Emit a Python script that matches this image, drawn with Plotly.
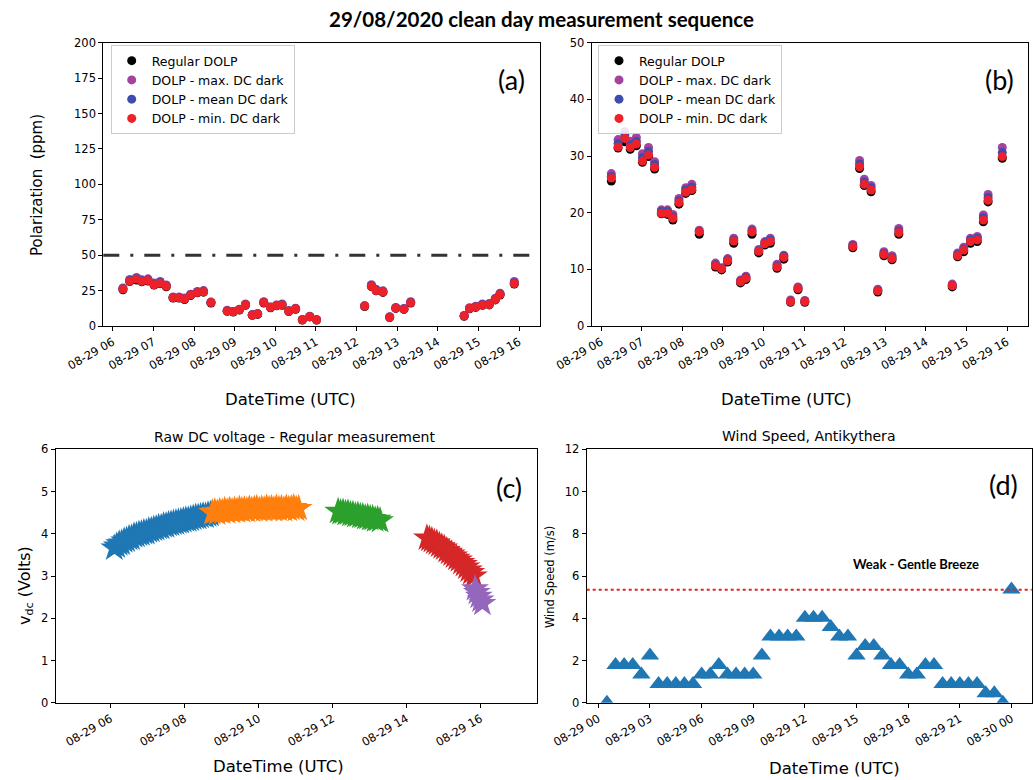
import plotly.graph_objects as go

W, H = 1035, 780
DAY = "2020-08-29 "

# ---------------- DOLP data (panels a, b) ----------------
dolp_hhmm = ["06:15", "06:25", "06:35", "06:43", "06:52", "07:01", "07:10", "07:19", "07:29", "07:38",
             "07:46", "07:55", "08:05", "08:14", "08:25", "08:49", "08:58", "09:07", "09:16", "09:26",
             "09:34", "09:43", "09:53", "10:02", "10:10", "10:20", "10:30", "10:40", "10:51", "11:01",
             "12:12", "12:22", "12:29", "12:39", "12:49", "12:58", "13:10", "13:20", "14:39", "14:47",
             "14:56", "15:06", "15:16", "15:25", "15:32", "15:53"]
dolp_regular = [25.6, 31.4, 32.5, 31.2, 31.8, 28.9, 29.9, 27.7, 19.8, 19.7, 18.7, 21.5, 23.4, 23.9, 16.2,
                10.4, 9.9, 11.3, 14.6, 7.6, 8.2, 16.2, 12.9, 14.3, 14.6, 10.2, 11.8, 4.2, 6.4, 4.2,
                13.8, 27.8, 24.8, 23.7, 6.0, 12.4, 11.7, 16.2, 6.9, 12.2, 13.1, 14.6, 14.9, 18.4, 21.9, 29.6]
dolp_max = [26.9, 32.9, 34.3, 32.6, 33.3, 30.4, 31.5, 29.0, 20.5, 20.5, 19.7, 22.5, 24.4, 25.0, 16.9,
            11.1, 10.3, 11.9, 15.5, 8.1, 8.8, 17.1, 13.5, 14.9, 15.5, 10.9, 12.5, 4.6, 6.9, 4.5,
            14.4, 29.2, 25.9, 24.8, 6.5, 13.1, 12.4, 17.2, 7.4, 12.9, 13.9, 15.5, 15.8, 19.6, 23.2, 31.5]
dolp_mean = [26.4, 32.2, 33.6, 32.0, 32.6, 29.7, 30.8, 28.5, 20.2, 20.2, 19.3, 22.1, 24.0, 24.5, 16.7,
             10.8, 10.2, 11.7, 15.2, 7.9, 8.6, 16.8, 13.3, 14.7, 15.2, 10.6, 12.3, 4.4, 6.7, 4.4,
             14.2, 28.6, 25.4, 24.4, 6.3, 12.8, 12.1, 16.8, 7.2, 12.6, 13.6, 15.2, 15.5, 19.1, 22.7, 30.6]
dolp_min = [26.1, 31.6, 33.1, 31.5, 32.1, 29.1, 30.2, 28.0, 19.9, 19.9, 19.0, 21.8, 23.6, 24.1, 16.6,
            10.6, 10.1, 11.5, 15.0, 7.8, 8.4, 16.6, 13.2, 14.5, 14.9, 10.4, 12.1, 4.3, 6.6, 4.3,
            14.0, 28.1, 25.0, 24.0, 6.2, 12.6, 11.9, 16.5, 7.1, 12.4, 13.4, 14.9, 15.2, 18.7, 22.2, 29.9]
dolp_threshold = 50

# ---------------- Raw DC voltage (panel c) ----------------
vdc_blue_hhmm = ["06:06", "06:10", "06:14", "06:18", "06:22", "06:26", "06:30", "06:34", "06:38", "06:42",
                 "06:46", "06:50", "06:54", "06:58", "07:02", "07:06", "07:10", "07:14", "07:18", "07:22",
                 "07:26", "07:30", "07:34", "07:38", "07:42", "07:46", "07:50", "07:54", "07:58", "08:02",
                 "08:06", "08:10", "08:14", "08:18", "08:22", "08:26", "08:30", "08:34", "08:38", "08:42"]
vdc_blue = [3.66, 3.71, 3.76, 3.78, 3.83, 3.85, 3.89, 3.90, 3.95, 3.96, 3.99, 4.00, 4.03, 4.03, 4.07,
            4.08, 4.11, 4.12, 4.15, 4.15, 4.19, 4.19, 4.22, 4.23, 4.25, 4.26, 4.28, 4.29, 4.31, 4.33,
            4.33, 4.35, 4.37, 4.39, 4.39, 4.41, 4.43, 4.42, 4.45, 4.46]
vdc_orange_hhmm = ["08:45", "08:49", "08:53", "08:57", "09:01", "09:05", "09:09", "09:13", "09:17", "09:21",
                   "09:25", "09:29", "09:33", "09:37", "09:41", "09:45", "09:49", "09:53", "09:57", "10:01",
                   "10:05", "10:09", "10:13", "10:17", "10:21", "10:25", "10:29", "10:33", "10:37", "10:41",
                   "10:45", "10:49", "10:53", "10:57", "11:01", "11:05"]
vdc_orange = [4.50, 4.52, 4.49, 4.53, 4.51, 4.55, 4.52, 4.56, 4.53, 4.56, 4.54, 4.58, 4.55, 4.57, 4.55,
              4.59, 4.56, 4.58, 4.60, 4.56, 4.59, 4.57, 4.61, 4.58, 4.60, 4.57, 4.61, 4.58, 4.60, 4.57,
              4.61, 4.58, 4.60, 4.62, 4.58, 4.60]
vdc_green_hhmm = ["12:09", "12:13", "12:17", "12:21", "12:25", "12:29", "12:33", "12:37", "12:41", "12:45",
                  "12:49", "12:53", "12:57", "13:01", "13:05", "13:09", "13:13", "13:17"]
vdc_green = [4.53, 4.50, 4.51, 4.48, 4.49, 4.46, 4.46, 4.43, 4.44, 4.41, 4.41, 4.38, 4.39, 4.36, 4.36,
             4.33, 4.34, 4.31]
vdc_red_hhmm = ["14:33", "14:37", "14:41", "14:45", "14:49", "14:53", "14:57", "15:01", "15:05", "15:09",
                "15:13", "15:17", "15:21", "15:25", "15:29", "15:33", "15:37", "15:41", "15:45", "15:49"]
vdc_red = [3.90, 3.87, 3.84, 3.80, 3.78, 3.73, 3.69, 3.66, 3.60, 3.56, 3.52, 3.47, 3.42, 3.38, 3.32,
           3.27, 3.21, 3.14, 3.08, 3.00]
vdc_purple_hhmm = ["15:51", "15:54", "15:57", "16:00", "16:03"]
vdc_purple = [2.70, 2.61, 2.52, 2.43, 2.35]

# ---------------- Wind speed (panel d) ----------------
wind_times = ["2020-08-29 00:30", "2020-08-29 01:00", "2020-08-29 01:30", "2020-08-29 02:00",
              "2020-08-29 02:30", "2020-08-29 03:00", "2020-08-29 03:30", "2020-08-29 04:00",
              "2020-08-29 04:30", "2020-08-29 05:00", "2020-08-29 05:30", "2020-08-29 06:00",
              "2020-08-29 06:30", "2020-08-29 07:00", "2020-08-29 07:30", "2020-08-29 08:00",
              "2020-08-29 08:30", "2020-08-29 09:00", "2020-08-29 09:30", "2020-08-29 10:00",
              "2020-08-29 10:30", "2020-08-29 11:00", "2020-08-29 11:30", "2020-08-29 12:00",
              "2020-08-29 12:30", "2020-08-29 13:00", "2020-08-29 13:30", "2020-08-29 14:00",
              "2020-08-29 14:30", "2020-08-29 15:00", "2020-08-29 15:30", "2020-08-29 16:00",
              "2020-08-29 16:30", "2020-08-29 17:00", "2020-08-29 17:30", "2020-08-29 18:00",
              "2020-08-29 18:30", "2020-08-29 19:00", "2020-08-29 19:30", "2020-08-29 20:00",
              "2020-08-29 20:30", "2020-08-29 21:00", "2020-08-29 21:30", "2020-08-29 22:00",
              "2020-08-29 22:30", "2020-08-29 23:00", "2020-08-29 23:30", "2020-08-30 00:00"]
wind_speed = [0.0, 1.79, 1.79, 1.79, 1.34, 2.24, 0.89, 0.89, 0.89, 0.89, 0.89, 1.34,
              1.34, 1.79, 1.34, 1.34, 1.34, 1.34, 2.24, 3.13, 3.13, 3.13, 3.13, 4.02,
              4.02, 4.02, 3.58, 3.13, 3.13, 2.24, 2.68, 2.68, 2.24, 1.79, 1.79, 1.34,
              1.34, 1.79, 1.79, 0.89, 0.89, 0.89, 0.89, 0.89, 0.45, 0.45, 0.0, 5.36]
breeze_threshold = 5.35
breeze_label = "Weak - Gentle Breeze"

# ---------------- helpers ----------------
def fx(px):
    return px / W


def fy(py):
    return 1 - py / H


FONT = "DejaVu Sans"
dolp_t = [DAY + t for t in dolp_hhmm]

fig = go.Figure()

series = [
    ("Regular DOLP", dolp_regular, "#000000"),
    ("DOLP - max. DC dark", dolp_max, "#a2449e"),
    ("DOLP - mean DC dark", dolp_mean, "#3d4dae"),
    ("DOLP - min. DC dark", dolp_min, "#ee2028"),
]
for name, vals, col in series:
    fig.add_trace(go.Scatter(x=dolp_t, y=vals, mode="markers", name=name,
                             marker=dict(color=col, size=9, line=dict(width=0)),
                             xaxis="x", yaxis="y", legend="legend"))
for name, vals, col in series:
    fig.add_trace(go.Scatter(x=dolp_t, y=vals, mode="markers", name=name,
                             marker=dict(color=col, size=9, line=dict(width=0)),
                             xaxis="x2", yaxis="y2", legend="legend2"))

groups = [
    (vdc_blue_hhmm, vdc_blue, "#1f77b4"),
    (vdc_orange_hhmm, vdc_orange, "#ff7f0e"),
    (vdc_green_hhmm, vdc_green, "#2ca02c"),
    (vdc_red_hhmm, vdc_red, "#d62728"),
    (vdc_purple_hhmm, vdc_purple, "#9467bd"),
]
for hh, vals, col in groups:
    fig.add_trace(go.Scatter(x=[DAY + t for t in hh], y=vals, mode="markers", showlegend=False,
                             marker=dict(symbol="star", color=col, size=21, line=dict(width=0)),
                             xaxis="x3", yaxis="y3"))

fig.add_trace(go.Scatter(x=wind_times, y=wind_speed, mode="markers", showlegend=False,
                         marker=dict(symbol="triangle-up", color="#1f77b4", size=16, line=dict(width=0)),
                         xaxis="x4", yaxis="y4"))

tickfont = dict(family=FONT, size=11.5, color="#000000")
common_ax = dict(showline=True, linecolor="#000000", linewidth=1, mirror=True, ticks="outside",
                 ticklen=4, tickwidth=1, tickcolor="#000000", showgrid=False, zeroline=False,
                 tickfont=tickfont, automargin=False)
xdate = dict(type="date", tickformat="%m-%d %H", tickangle=-30, tick0="2020-08-29 00:00")

legend_style = dict(xanchor="left", yanchor="top", bgcolor="rgba(255,255,255,0.85)",
                    bordercolor="#cccccc", borderwidth=1, font=dict(family=FONT, size=12.5, color="#000000"),
                    tracegroupgap=0, itemwidth=30)

fig.update_layout(
    width=W, height=H, margin=dict(l=0, r=0, t=0, b=0, pad=0, autoexpand=False),
    paper_bgcolor="white", plot_bgcolor="white",
    xaxis=dict(**common_ax, **xdate, domain=[fx(103.3), fx(540)], anchor="y",
               range=["2020-08-29 05:46", "2020-08-29 16:31"], dtick=3600000),
    yaxis=dict(**common_ax, domain=[fy(326), fy(42.7)], anchor="x", range=[0, 200], dtick=25),
    xaxis2=dict(**common_ax, **xdate, domain=[fx(591.7), fx(1028)], anchor="y2",
                range=["2020-08-29 05:46", "2020-08-29 16:31"], dtick=3600000),
    yaxis2=dict(**common_ax, domain=[fy(326), fy(42.7)], anchor="x2", range=[0, 50], dtick=10),
    xaxis3=dict(**common_ax, **xdate, domain=[fx(55.7), fx(537.3)], anchor="y3",
                range=["2020-08-29 04:31", "2020-08-29 17:32"], dtick=7200000),
    yaxis3=dict(**common_ax, domain=[fy(702.7), fy(449.3)], anchor="x3", range=[0, 6], dtick=1),
    xaxis4=dict(**common_ax, **xdate, domain=[fx(586.7), fx(1031.7)], anchor="y4",
                range=["2020-08-28 23:19:30", "2020-08-30 01:10:30"], dtick=10800000),
    yaxis4=dict(**common_ax, domain=[fy(702.7), fy(449.3)], anchor="x4", range=[0, 12], dtick=2),
    legend=dict(x=fx(110.7), y=fy(45), **legend_style),
    legend2=dict(x=fx(598), y=fy(45), **legend_style),
)

# threshold lines
fig.add_shape(type="line", xref="x domain", yref="y", x0=0, x1=1, y0=dolp_threshold, y1=dolp_threshold,
              line=dict(color="#333333", width=3, dash="16px,11px,3px,11px"))
fig.add_shape(type="line", xref="x4 domain", yref="y4", x0=0, x1=1, y0=breeze_threshold, y1=breeze_threshold,
              line=dict(color="#d62728", width=2, dash="dot"))

ann = []


def add_text(text, x, y, size, family=FONT, angle=0, bold=False, color="#000000"):
    ann.append(dict(text=("<b>%s</b>" % text) if bold else text, x=fx(x), y=fy(y), xref="paper", yref="paper",
                    showarrow=False, xanchor="center", yanchor="middle", textangle=angle,
                    font=dict(family=family, size=size, color=color)))


add_text("29/08/2020 clean day measurement sequence", 541, 19, 20.5, family="Lato", bold=True)
add_text("Polarization  (ppm)", 37, 185, 15, angle=-90)
add_text("DateTime (UTC)", 290, 400, 16.5)
add_text("DateTime (UTC)", 786, 400, 16.5)
add_text("DateTime (UTC)", 278, 766, 16.5)
add_text("DateTime (UTC)", 834, 768, 16.5)
add_text("v<sub>dc</sub> (Volts)", 25, 586, 16, angle=-90)
add_text("Wind Speed (m/s)", 550, 577, 11.5, angle=-90)
add_text("Raw DC voltage - Regular measurement", 294, 437, 14)
add_text("Wind Speed, Antikythera", 808, 436, 14)
add_text("(a)", 511, 80, 27, family="Lato")
add_text("(b)", 999, 80, 27, family="Lato")
add_text("(c)", 509, 487, 27, family="Lato")
add_text("(d)", 1003, 484, 27, family="Lato")
add_text(breeze_label, 916, 564, 13, family="Lato", bold=True)
fig.update_layout(annotations=ann)

fig.write_html("out.html")
